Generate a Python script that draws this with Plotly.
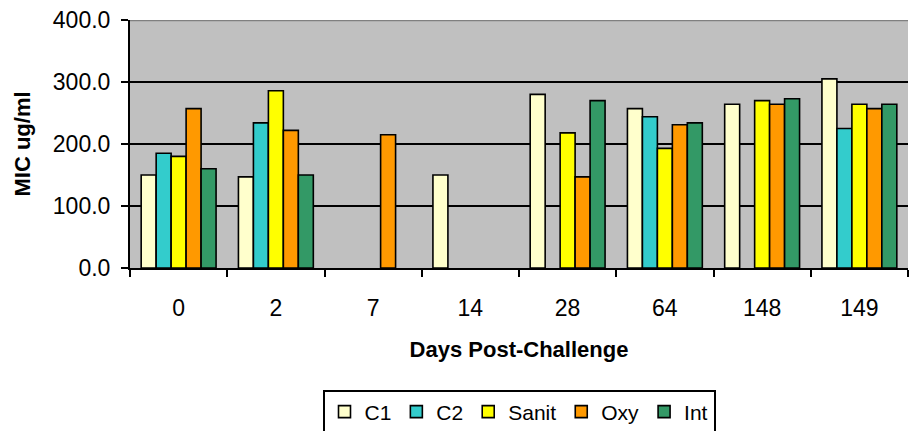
import plotly.graph_objects as go

# Days after challenge (categorical x axis)
days = ["0", "2", "7", "14", "28", "64", "148", "149"]

# MIC (ug/ml) per treatment; None = not measured
c1 = [150, 147, None, 150, 280, 257, 264, 305]
c2 = [185, 234, None, None, None, 244, None, 225]
sanit = [180, 286, None, None, 218, 193, 270, 264]
oxy = [257, 222, 215, None, 147, 231, 264, 257]
integ = [160, 150, None, None, 270, 234, 273, 264]

series_names = ["C1", "C2", "Sanit", "Oxy", "Int"]
series_values = [c1, c2, sanit, oxy, integ]
series_colors = ["#FFFFCC", "#33CCCC", "#FFFF00", "#FF9900", "#339966"]

FONT = "Liberation Sans, Arial, sans-serif"

fig = go.Figure()
for name, vals, color in zip(series_names, series_values, series_colors):
    fig.add_trace(go.Bar(
        x=days, y=vals, name=name,
        marker=dict(color=color, line=dict(color="black", width=1.6)),
    ))

fig.update_layout(
    width=909, height=431,
    margin=dict(l=130, r=1, t=20, b=163, autoexpand=False),
    paper_bgcolor="white",
    plot_bgcolor="#C0C0C0",
    barmode="group",
    bargap=0.23,
    bargroupgap=0,
    font=dict(family=FONT, size=22, color="black"),
    showlegend=True,
    legend=dict(
        orientation="h",
        x=0.5, xanchor="center",
        y=-0.49, yanchor="top",
        bordercolor="black", borderwidth=2,
        font=dict(family=FONT, size=21, color="black"),
        traceorder="normal",
        itemwidth=30,
    ),
    xaxis=dict(
        type="category",
        showline=True, linecolor="black", linewidth=2,
        ticks="outside", tickson="boundaries", ticklen=7, tickwidth=2, tickcolor="black",
        tickfont=dict(family=FONT, size=23),
        ticklabelstandoff=18,
        title=dict(text="<b>Days Post-Challenge</b>", font=dict(family=FONT, size=22), standoff=22),
        showgrid=False,
    ),
    yaxis=dict(
        range=[0, 400],
        dtick=100,
        tickformat=".1f",
        showline=True, linecolor="black", linewidth=2,
        ticks="outside", ticklen=7, tickwidth=2, tickcolor="black",
        tickfont=dict(family=FONT, size=23),
        ticklabelstandoff=6,
        showgrid=True, gridcolor="black", gridwidth=1.5,
        zeroline=False,
        title=dict(text="<b>MIC ug/ml</b>", font=dict(family=FONT, size=22), standoff=16),
    ),
)

# Grey border along the top of the plot area
fig.add_shape(type="line", xref="paper", yref="y", x0=0, x1=1, y0=400, y1=400,
              line=dict(color="#808080", width=2.5))

fig.write_html("out.html")
